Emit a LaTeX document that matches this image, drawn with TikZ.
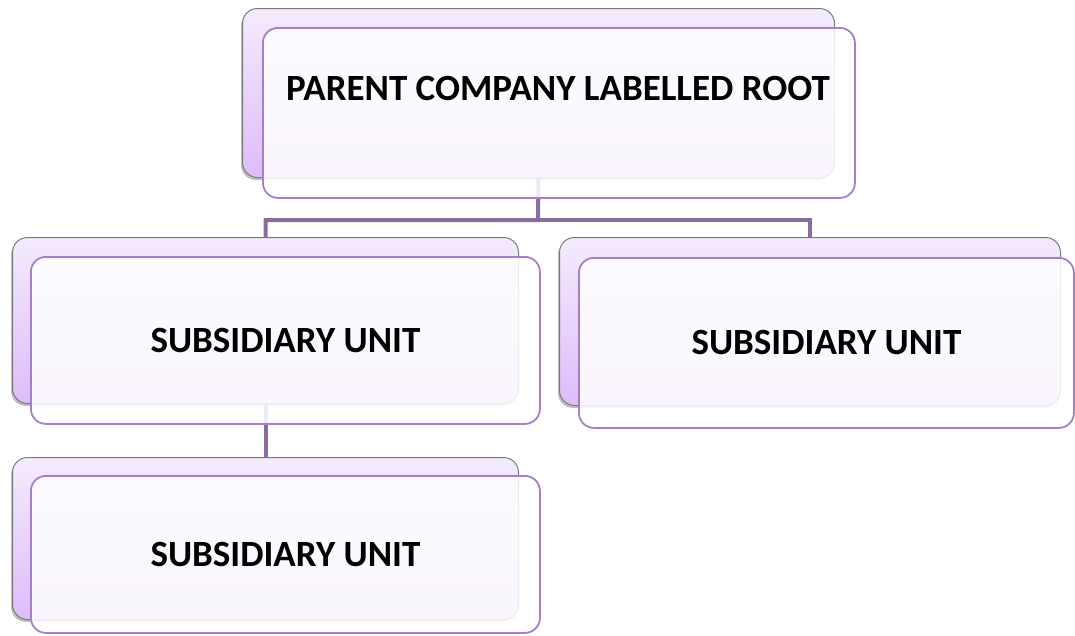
\documentclass[tikz,border=0pt]{standalone}
\usepackage{fontspec}
\setmainfont{Carlito}
\usetikzlibrary{shadows}
\definecolor{backtop}{HTML}{F4EBFD}
\definecolor{backbot}{HTML}{DEBCFB}
\definecolor{backline}{HTML}{7A7A7A}
\definecolor{frontline}{HTML}{A67FC8}
\definecolor{conn}{HTML}{8C6B9E}
\tikzset{
  backbox/.style={rectangle, rounded corners=15pt, draw=backline, line width=1pt,
    top color=backtop, bottom color=backbot, anchor=north west, inner sep=0pt,
    drop shadow={shadow xshift=-1.5pt, shadow yshift=-2.5pt, opacity=0.25, fill=black}},
  frontbox/.style={rectangle, rounded corners=15pt, draw=frontline, line width=1.8pt,
    fill=white, fill opacity=0.86, draw opacity=1, anchor=north west, inner sep=0pt},
  label/.style={font=\bfseries\fontsize{37}{42}\selectfont, text=black, inner sep=0pt},
  connector/.style={draw=conn, line width=4pt}
}
\begin{document}
\begin{tikzpicture}[x=1pt, y=-1pt]
\useasboundingbox (0,0) rectangle (1075,635);
% back boxes
\node[backbox, minimum width=592pt, minimum height=169pt] (rootB) at (242,8) {};
\node[backbox, minimum width=506pt, minimum height=166pt] (leftB) at (12,237) {};
\node[backbox, minimum width=501pt, minimum height=168pt] (rightB) at (559,237) {};
\node[backbox, minimum width=506pt, minimum height=162pt] (lowB) at (12,457) {};
% connectors
\coordinate (bus) at (538,220);
\draw[connector] (rootB.south) -- (bus) -| (leftB.north);
\draw[connector] (bus) -| (rightB.north);
\draw[connector] (leftB.south) -- (lowB.north);
% front boxes
\node[frontbox, minimum width=592pt, minimum height=170pt] (rootF) at (262,27) {};
\node[frontbox, minimum width=509pt, minimum height=167pt] (leftF) at (30,256) {};
\node[frontbox, minimum width=495pt, minimum height=170pt] (rightF) at (578,257) {};
\node[frontbox, minimum width=509pt, minimum height=157pt] (lowF) at (30,475) {};
% texts
\node[label] (rootT) at (558,88) {PARENT COMPANY LABELLED ROOT};
\node[label] (leftT) at (leftF.center) {SUBSIDIARY UNIT};
\node[label] (rightT) at (rightF.center) {SUBSIDIARY UNIT};
\node[label] (lowT) at (lowF.center) {SUBSIDIARY UNIT};
\end{tikzpicture}
\end{document}
